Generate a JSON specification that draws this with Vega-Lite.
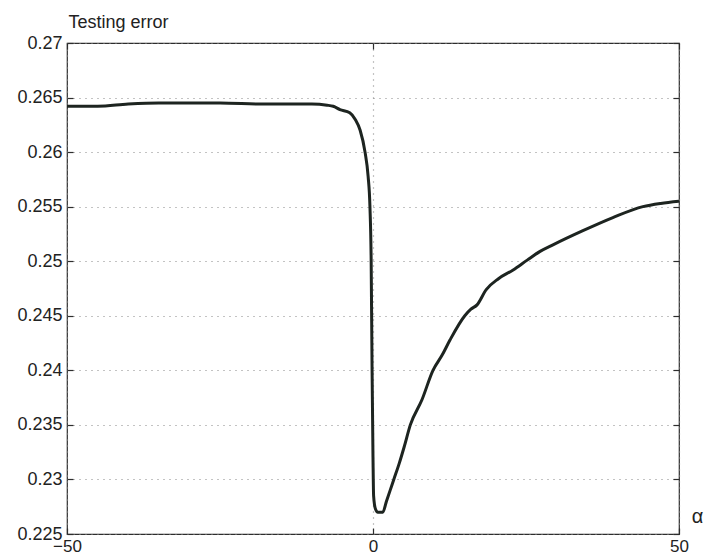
{
  "$schema": "https://vega.github.io/schema/vega-lite/v6.json",
  "width": 612,
  "height": 491,
  "autosize": "none",
  "padding": {"left": 67, "top": 43, "right": 27, "bottom": 24},
  "background": "white",
  "config": {
    "view": {"stroke": "#2e2e2e", "strokeWidth": 1.2},
    "font": "Liberation Sans",
    "axis": {
      "labelFont": "Liberation Sans",
      "labelFontSize": 18,
      "labelColor": "#222",
      "titleFont": "Liberation Sans",
      "titleFontWeight": "normal",
      "titleColor": "#222",
      "domain": false,
      "tickColor": "#2e2e2e",
      "tickSize": -6,
      "tickWidth": 1.2,
      "gridColor": "#888",
      "gridDash": [1, 5],
      "gridWidth": 1.2
    }
  },
  "data": {
    "values": [
      {"alpha": -50, "err": 0.2642},
      {"alpha": -45, "err": 0.2642},
      {"alpha": -40, "err": 0.2644},
      {"alpha": -35, "err": 0.2645},
      {"alpha": -25, "err": 0.2645},
      {"alpha": -18, "err": 0.2644},
      {"alpha": -10, "err": 0.2644},
      {"alpha": -7.5, "err": 0.2643},
      {"alpha": -6.5, "err": 0.2642},
      {"alpha": -5.4, "err": 0.2639},
      {"alpha": -3.8, "err": 0.2636},
      {"alpha": -2.9, "err": 0.263},
      {"alpha": -2.1, "err": 0.262},
      {"alpha": -1.3, "err": 0.26},
      {"alpha": -0.8, "err": 0.2578},
      {"alpha": -0.5, "err": 0.255},
      {"alpha": -0.3, "err": 0.25},
      {"alpha": -0.15, "err": 0.24},
      {"alpha": 0.0, "err": 0.232},
      {"alpha": 0.1, "err": 0.2285},
      {"alpha": 0.4, "err": 0.2273},
      {"alpha": 0.8, "err": 0.227},
      {"alpha": 1.6, "err": 0.227},
      {"alpha": 2.2, "err": 0.228},
      {"alpha": 2.8, "err": 0.229},
      {"alpha": 3.4, "err": 0.23},
      {"alpha": 4.3, "err": 0.2315},
      {"alpha": 5.1, "err": 0.233},
      {"alpha": 6.1, "err": 0.235},
      {"alpha": 8.0, "err": 0.2373},
      {"alpha": 9.8, "err": 0.24},
      {"alpha": 11.3, "err": 0.2414},
      {"alpha": 12.6, "err": 0.2428},
      {"alpha": 15.0, "err": 0.245},
      {"alpha": 16.0, "err": 0.2456},
      {"alpha": 17.0, "err": 0.246},
      {"alpha": 18.5, "err": 0.2474},
      {"alpha": 20.5, "err": 0.2484},
      {"alpha": 22.9, "err": 0.2492},
      {"alpha": 25.2, "err": 0.2501},
      {"alpha": 27.3, "err": 0.2509},
      {"alpha": 29.4, "err": 0.2515},
      {"alpha": 34.3, "err": 0.2528},
      {"alpha": 39.2, "err": 0.254},
      {"alpha": 44.1, "err": 0.255},
      {"alpha": 47.0, "err": 0.2553},
      {"alpha": 50.0, "err": 0.2555}
    ]
  },
  "layer": [
    {
      "mark": {"type": "line", "color": "#1d2420", "strokeWidth": 3, "interpolate": "monotone", "clip": true},
      "encoding": {
        "x": {
          "field": "alpha",
          "type": "quantitative",
          "scale": {"domain": [-50, 50], "nice": false, "zero": false},
          "axis": {
            "orient": "bottom",
            "values": [-50, 0, 50],
            "labelPadding": 10,
            "labelFontSize": 17,
            "labelFlush": false,
            "title": "α",
            "titleFontSize": 20,
            "titleAnchor": null,
            "titleX": 630,
            "titleY": -18,
            "titleAlign": "center",
            "titleBaseline": "middle",
            "titleAngle": 0
          }
        },
        "y": {
          "field": "err",
          "type": "quantitative",
          "scale": {"domain": [0.225, 0.27], "nice": false, "zero": false},
          "axis": {
            "orient": "left",
            "values": [0.225, 0.23, 0.235, 0.24, 0.245, 0.25, 0.255, 0.26, 0.265, 0.27],
            "format": ".3~f",
            "labelPadding": 11,
            "labelFlush": false,
            "title": "Testing error",
            "titleFontSize": 18,
            "titleAngle": 0,
            "titleAnchor": null,
            "titleX": 1,
            "titleY": -16,
            "titleAlign": "left",
            "titleBaseline": "alphabetic"
          }
        }
      }
    },
    {
      "mark": {"type": "line", "strokeOpacity": 0},
      "encoding": {
        "x": {
          "field": "alpha",
          "type": "quantitative",
          "scale": {"domain": [-50, 50], "nice": false, "zero": false},
          "axis": {"orient": "top", "values": [-50, 0, 50], "labels": false, "grid": false, "title": null}
        },
        "y": {
          "field": "err",
          "type": "quantitative",
          "scale": {"domain": [0.225, 0.27], "nice": false, "zero": false},
          "axis": {
            "orient": "right",
            "values": [0.225, 0.23, 0.235, 0.24, 0.245, 0.25, 0.255, 0.26, 0.265, 0.27],
            "labels": false,
            "grid": false,
            "title": null
          }
        }
      }
    }
  ],
  "resolve": {"axis": {"x": "independent", "y": "independent"}}
}
